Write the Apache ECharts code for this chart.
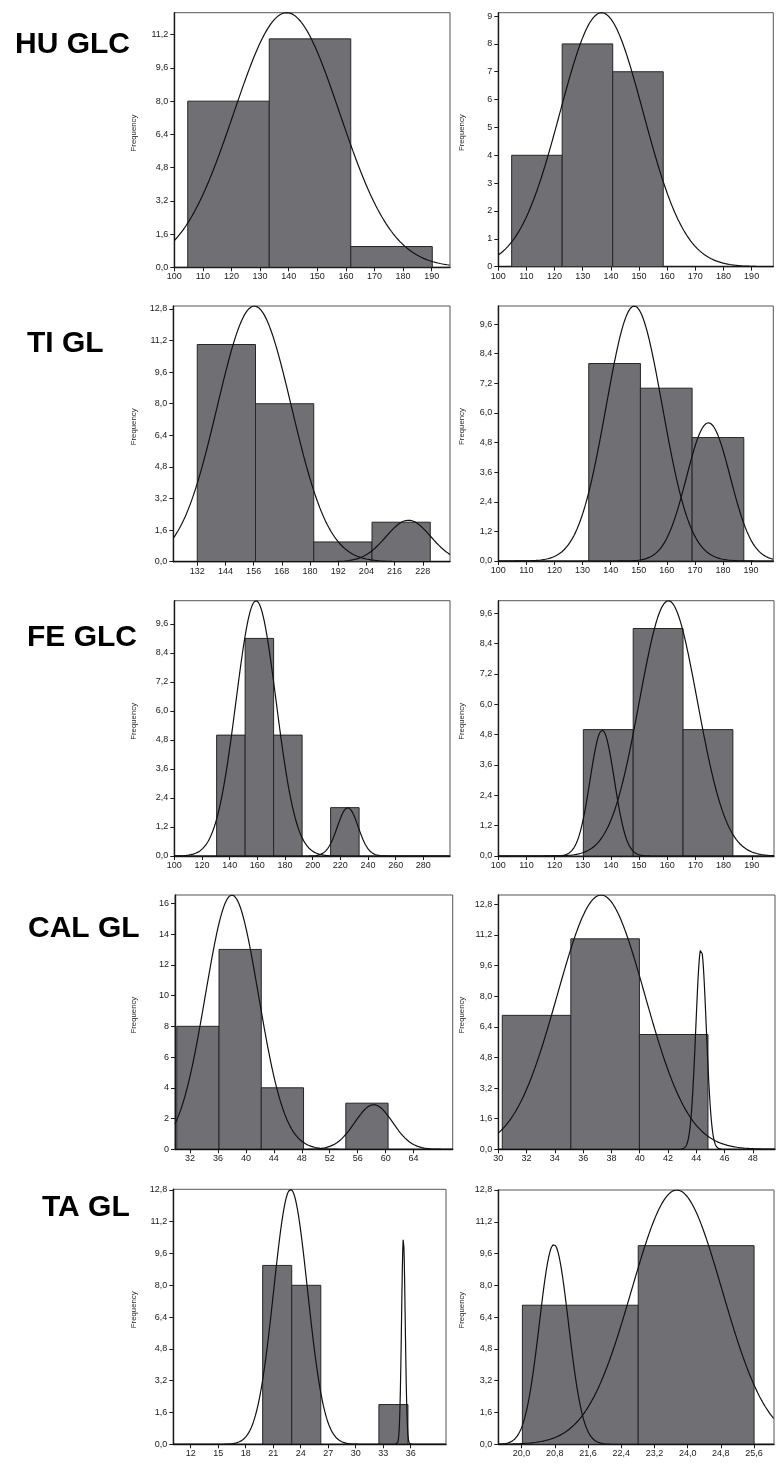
<!DOCTYPE html>
<html><head><meta charset="utf-8">
<script src="https://cdn.jsdelivr.net/npm/echarts@6/dist/echarts.min.js"></script>
<style>html,body{margin:0;padding:0;background:#fff}#c{width:781px;height:1464px}</style>
</head><body><div id="c"></div><script>
// ---------- DATA ----------
// HU GLC left
const HU_L_edges  = [104.7, 133.2, 161.7, 190.2];
const HU_L_counts = [8, 11, 1];
const HU_L_curves = [[139.3, 18.5, 12.26]];          // mean, sd, peak height
const HU_L_xTicks = ['100','110','120','130','140','150','160','170','180','190'];
const HU_L_yTicks = ['0,0','1,6','3,2','4,8','6,4','8,0','9,6','11,2'];
const HU_L_xRange = [100, 196.4];
const HU_L_yMax   = 12.26;
// HU GLC right
const HU_R_edges  = [104.75, 122.7, 140.65, 158.6];
const HU_R_counts = [4, 8, 7];
const HU_R_curves = [[136.7, 14.8, 9.12]];
const HU_R_xTicks = ['100','110','120','130','140','150','160','170','180','190'];
const HU_R_yTicks = ['0','1','2','3','4','5','6','7','8','9'];
const HU_R_xRange = [100, 197.7];
const HU_R_yMax   = 9.12;
// TI GL left
const TI_L_edges  = [132, 156.8, 181.6, 206.4, 231.2];
const TI_L_counts = [11, 8, 1, 2];
const TI_L_curves = [[156.3, 15.8, 12.95], [221.9, 9.5, 2.1]];
const TI_L_xTicks = ['132','144','156','168','180','192','204','216','228'];
const TI_L_yTicks = ['0,0','1,6','3,2','4,8','6,4','8,0','9,6','11,2','12,8'];
const TI_L_xRange = [121.8, 239.6];
const TI_L_yMax   = 12.95;
// TI GL right
const TI_R_edges  = [132.2, 150.6, 169.0, 187.4];
const TI_R_counts = [8, 7, 5];
const TI_R_curves = [[148.4, 10.0, 10.33], [174.8, 7.8, 5.6]];
const TI_R_xTicks = ['100','110','120','130','140','150','160','170','180','190'];
const TI_R_yTicks = ['0,0','1,2','2,4','3,6','4,8','6,0','7,2','8,4','9,6'];
const TI_R_xRange = [100, 197.9];
const TI_R_yMax   = 10.33;
// FE GLC left
const FE_L_edges  = [130.6, 151.2, 171.8, 192.4, 213.0, 233.6];
const FE_L_counts = [5, 9, 5, 0, 2];
const FE_L_curves = [[159.1, 14.5, 10.56], [225.4, 7.5, 2.0]];
const FE_L_xTicks = ['100','120','140','160','180','200','220','240','260','280'];
const FE_L_yTicks = ['0,0','1,2','2,4','3,6','4,8','6,0','7,2','8,4','9,6'];
const FE_L_xRange = [100, 299.3];
const FE_L_yMax   = 10.56;
// FE GLC right
const FE_R_edges  = [130.2, 147.9, 165.6, 183.3];
const FE_R_counts = [5, 9, 5];
const FE_R_curves = [[136.9, 4.3, 4.98], [160.4, 10.3, 10.1]];
const FE_R_xTicks = ['100','110','120','130','140','150','160','170','180','190'];
const FE_R_yTicks = ['0,0','1,2','2,4','3,6','4,8','6,0','7,2','8,4','9,6'];
const FE_R_xRange = [100, 197.9];
const FE_R_yMax   = 10.1;
// CAL GL left
const CAL_L_edges  = [30.1, 36.15, 42.2, 48.25, 54.3, 60.35];
const CAL_L_counts = [8, 13, 4, 0, 3];
const CAL_L_curves = [[38.0, 3.8, 16.54], [58.3, 2.7, 2.9]];
const CAL_L_xTicks = ['32','36','40','44','48','52','56','60','64'];
const CAL_L_yTicks = ['0','2','4','6','8','10','12','14','16'];
const CAL_L_xRange = [29.85, 69.6];
const CAL_L_yMax   = 16.54;
// CAL GL right
const CAL_R_edges  = [30.28, 35.13, 39.98, 44.83];
const CAL_R_counts = [7, 11, 6];
const CAL_R_curves = [[37.27, 3.1, 13.29], [44.34, 0.37, 10.5]];
const CAL_R_xTicks = ['30','32','34','36','38','40','42','44','46','48'];
const CAL_R_yTicks = ['0,0','1,6','3,2','4,8','6,4','8,0','9,6','11,2','12,8'];
const CAL_R_xRange = [30, 49.57];
const CAL_R_yMax   = 13.29;
// TA GL left
const TA_L_edges  = [19.85, 23.02, 26.19, 29.36, 32.53, 35.7];
const TA_L_counts = [9, 8, 0, 0, 2];
const TA_L_curves = [[22.9, 1.84, 12.83], [35.2, 0.2, 10.37]];
const TA_L_xTicks = ['12','15','18','21','24','27','30','33','36'];
const TA_L_yTicks = ['0,0','1,6','3,2','4,8','6,4','8,0','9,6','11,2','12,8'];
const TA_L_xRange = [10.1, 39.85];
const TA_L_yMax   = 12.83;
// TA GL right
const TA_R_edges  = [20.02, 22.81, 25.6];
const TA_R_counts = [7, 10];
const TA_R_curves = [[20.78, 0.35, 10.06], [23.74, 1.09, 12.8]];
const TA_R_xTicks = ['20,0','20,8','21,6','22,4','23,2','24,0','24,8','25,6'];
const TA_R_yTicks = ['0,0','1,6','3,2','4,8','6,4','8,0','9,6','11,2','12,8'];
const TA_R_xRange = [19.44, 26.08];
const TA_R_yMax   = 12.8;

const rowTitles = ['HU GLC', 'TI GL', 'FE GLC', 'CAL GL', 'TA GL'];
const yAxisName = 'Frequency';

// ---------- LAYOUT ----------
const panels = [
  {e:HU_L_edges,c:HU_L_counts,k:HU_L_curves,xt:HU_L_xTicks,yt:HU_L_yTicks,xr:HU_L_xRange,ym:HU_L_yMax},
  {e:HU_R_edges,c:HU_R_counts,k:HU_R_curves,xt:HU_R_xTicks,yt:HU_R_yTicks,xr:HU_R_xRange,ym:HU_R_yMax},
  {e:TI_L_edges,c:TI_L_counts,k:TI_L_curves,xt:TI_L_xTicks,yt:TI_L_yTicks,xr:TI_L_xRange,ym:TI_L_yMax},
  {e:TI_R_edges,c:TI_R_counts,k:TI_R_curves,xt:TI_R_xTicks,yt:TI_R_yTicks,xr:TI_R_xRange,ym:TI_R_yMax},
  {e:FE_L_edges,c:FE_L_counts,k:FE_L_curves,xt:FE_L_xTicks,yt:FE_L_yTicks,xr:FE_L_xRange,ym:FE_L_yMax},
  {e:FE_R_edges,c:FE_R_counts,k:FE_R_curves,xt:FE_R_xTicks,yt:FE_R_yTicks,xr:FE_R_xRange,ym:FE_R_yMax},
  {e:CAL_L_edges,c:CAL_L_counts,k:CAL_L_curves,xt:CAL_L_xTicks,yt:CAL_L_yTicks,xr:CAL_L_xRange,ym:CAL_L_yMax},
  {e:CAL_R_edges,c:CAL_R_counts,k:CAL_R_curves,xt:CAL_R_xTicks,yt:CAL_R_yTicks,xr:CAL_R_xRange,ym:CAL_R_yMax},
  {e:TA_L_edges,c:TA_L_counts,k:TA_L_curves,xt:TA_L_xTicks,yt:TA_L_yTicks,xr:TA_L_xRange,ym:TA_L_yMax},
  {e:TA_R_edges,c:TA_R_counts,k:TA_R_curves,xt:TA_R_xTicks,yt:TA_R_yTicks,xr:TA_R_xRange,ym:TA_R_yMax}
];
const boxes = [
  {l:174.3,t:12.7,r:450,b:267.3},{l:498.3,t:12.7,r:773.3,b:266.7},
  {l:173.3,t:306,r:450,b:561.7},{l:498.3,t:306,r:773.3,b:561},
  {l:174.3,t:600.7,r:450,b:856},{l:498.3,t:600.7,r:774,b:856},
  {l:175,t:895,r:452.7,b:1149.3},{l:498.3,t:895,r:775,b:1149.3},
  {l:173.3,t:1189.3,r:446,b:1444.3},{l:498.3,t:1190,r:774,b:1444.3}
];
const titlePos = [{x:15,y:45},{x:27,y:344},{x:27,y:638},{x:28,y:929},{x:42,y:1208}];

const FONT = '"Liberation Sans", Arial, Helvetica, sans-serif';
const INK = '#1a1a1a';
const num = s => parseFloat(s.replace(',', '.'));
function labeler(arr){
  const vals = arr.map(num);
  return v => { const i = vals.findIndex(x => Math.abs(x - v) < 1e-7); return i < 0 ? '' : arr[i]; };
}

const grid = [], xAxis = [], yAxis = [], series = [], graphic = [];
panels.forEach((p, i) => {
  const b = boxes[i];
  grid.push({left:b.l, top:b.t, width:b.r-b.l, height:b.b-b.t, show:true,
    borderColor:'#555', borderWidth:1, backgroundColor:'#fff', containLabel:false});
  const xv = p.xt.map(num), yv = p.yt.map(num);
  xAxis.push({gridIndex:i, type:'value', min:p.xr[0], max:p.xr[1],
    axisLine:{show:true, onZero:false, lineStyle:{color:INK, width:1.4}},
    axisTick:{show:true, customValues:xv, length:4, lineStyle:{color:INK, width:1}},
    axisLabel:{show:true, customValues:xv, formatter:labeler(p.xt), fontSize:9, color:INK, margin:5, fontFamily:FONT, hideOverlap:false},
    splitLine:{show:false}});
  yAxis.push({gridIndex:i, type:'value', min:0, max:p.ym,
    axisLine:{show:true, onZero:false, lineStyle:{color:INK, width:1.4}},
    axisTick:{show:true, customValues:yv, length:4, lineStyle:{color:INK, width:1}},
    axisLabel:{show:true, customValues:yv, formatter:labeler(p.yt), fontSize:9, color:INK, margin:6, fontFamily:FONT, hideOverlap:false},
    splitLine:{show:false}});
  const bars = p.c.map((c, j) => [p.e[j], p.e[j+1], c]);
  series.push({type:'custom', xAxisIndex:i, yAxisIndex:i, data:bars, clip:true, silent:true,
    encode:{x:[0,1], y:2},
    renderItem:(params, api) => {
      const c = api.value(2);
      if (!c) return null;
      const p0 = api.coord([api.value(0), c]);
      const p1 = api.coord([api.value(1), 0]);
      return {type:'rect', shape:{x:p0[0], y:p0[1], width:p1[0]-p0[0], height:p1[1]-p0[1]},
        style:{fill:'#707074', stroke:'#262626', lineWidth:1}};
    }});
  p.k.forEach(([m, sd, h]) => {
    const pts = [], N = 700;
    for (let s = 0; s <= N; s++) {
      const x = p.xr[0] + (p.xr[1]-p.xr[0]) * s / N;
      pts.push([x, h * Math.exp(-0.5 * ((x - m) / sd) ** 2)]);
    }
    series.push({type:'line', xAxisIndex:i, yAxisIndex:i, data:pts, showSymbol:false, symbol:'none',
      clip:true, silent:true, lineStyle:{color:'#111', width:1.2}, z:5});
  });
  graphic.push({type:'text', x:(i % 2 === 0) ? 134 : 462, y:(b.t + b.b)/2 - 7, rotation:Math.PI/2,
    style:{text:yAxisName, fontSize:7.8, fontFamily:FONT, fill:'#222', align:'center', verticalAlign:'middle'}});
});
rowTitles.forEach((t, r) => {
  graphic.push({type:'text', x:titlePos[r].x, y:titlePos[r].y,
    style:{text:t, fontSize:30, fontWeight:'bold', fontFamily:FONT, fill:'#000', align:'left', verticalAlign:'middle'}});
});

const chart = echarts.init(document.getElementById('c'), null, {renderer:'canvas', width:781, height:1464});
chart.setOption({animation:false, backgroundColor:'#fff', grid, xAxis, yAxis, series, graphic});
</script></body></html>
